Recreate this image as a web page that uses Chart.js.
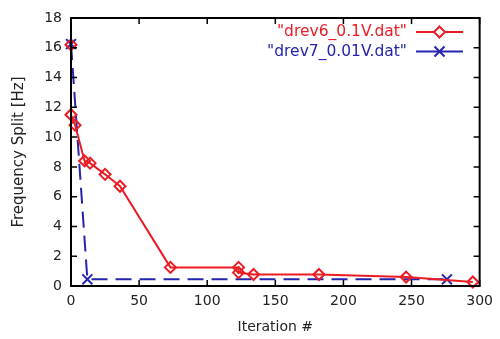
<!DOCTYPE html>
<html>
<head>
<meta charset="utf-8">
<script src="https://cdn.jsdelivr.net/npm/chart.js@4"></script>
<style>
  html, body { margin: 0; padding: 0; background: #fff; }
  #wrap { width: 500px; height: 339px; position: relative; }
</style>
</head>
<body>
<div id="wrap"><canvas id="c"></canvas></div>
<script>
// Frequency split vs iteration, two drive runs (gnuplot-style)
const labels = ['"drev6_0.1V.dat"', '"drev7_0.01V.dat"'];

const redX = [0, 0, 3, 10, 14, 25, 36, 73, 123, 123, 134, 182, 246, 295];
const redY = [16.2, 11.5, 10.8, 8.4, 8.25, 7.5, 6.7, 1.25, 1.25, 0.9, 0.77, 0.77, 0.6, 0.27];

const blueX = [0, 12, 276];
const blueY = [16.25, 0.45, 0.45];

const xTicks = [0, 50, 100, 150, 200, 250, 300];
const yTicks = [0, 2, 4, 6, 8, 10, 12, 14, 16, 18];

const RED = '#ec1c24';
const BLUE = '#2424b0';
const FONT = 'DejaVu Sans';

const toPts = (xs, ys) => xs.map((x, i) => ({ x, y: ys[i] }));

// box round the plot with inward ticks on all four sides
const frame = {
  id: 'frame',
  afterDatasetsDraw(chart) {
    const { ctx, chartArea: a, scales: { x, y } } = chart;
    const t = 6;
    ctx.save();
    ctx.strokeStyle = '#000';
    ctx.lineWidth = 1.5;
    ctx.beginPath();
    xTicks.forEach(v => {
      const px = x.getPixelForValue(v);
      ctx.moveTo(px, a.bottom); ctx.lineTo(px, a.bottom - t);
      ctx.moveTo(px, a.top); ctx.lineTo(px, a.top + t);
    });
    yTicks.forEach(v => {
      const py = y.getPixelForValue(v);
      ctx.moveTo(a.left, py); ctx.lineTo(a.left + t, py);
      ctx.moveTo(a.right, py); ctx.lineTo(a.right - t, py);
    });
    ctx.stroke();
    ctx.lineWidth = 2;
    ctx.strokeRect(a.left, a.top, a.right - a.left, a.bottom - a.top);
    ctx.restore();
  }
};

// key inside the top right corner: label first, sample line after
const key = {
  id: 'key',
  afterDraw(chart) {
    const { ctx } = chart;
    const textRight = 407, x0 = 416, x1 = 463, top = 32, step = 19.5;
    ctx.save();
    ctx.font = '15.5px "' + FONT + '"';
    ctx.textAlign = 'right';
    ctx.textBaseline = 'middle';
    chart.data.datasets.forEach((ds, i) => {
      const yy = top + i * step;
      const xm = (x0 + x1) / 2;
      ctx.fillStyle = ds.borderColor;
      ctx.fillText(ds.label, textRight, yy);
      ctx.strokeStyle = ds.borderColor;
      ctx.lineWidth = 2;
      ctx.beginPath();
      ctx.moveTo(x0, yy); ctx.lineTo(x1, yy);
      ctx.stroke();
      ctx.beginPath();
      if (ds.pointStyle === 'rectRot') {
        ctx.fillStyle = '#fff';
        ctx.moveTo(xm, yy - 5.5); ctx.lineTo(xm + 5.5, yy);
        ctx.lineTo(xm, yy + 5.5); ctx.lineTo(xm - 5.5, yy);
        ctx.closePath();
        ctx.fill();
      } else {
        ctx.moveTo(xm - 5, yy - 5); ctx.lineTo(xm + 5, yy + 5);
        ctx.moveTo(xm + 5, yy - 5); ctx.lineTo(xm - 5, yy + 5);
      }
      ctx.stroke();
    });
    ctx.restore();
  }
};

new Chart(document.getElementById('c'), {
  type: 'scatter',
  data: {
    datasets: [
      {
        label: labels[0],
        data: toPts(redX, redY),
        showLine: true,
        borderColor: RED,
        backgroundColor: 'rgba(255,255,255,0)',
        borderWidth: 2,
        pointStyle: 'rectRot',
        pointRadius: 5.5,
        pointBorderWidth: 2,
        pointBorderColor: RED,
        clip: false,
      },
      {
        label: labels[1],
        data: toPts(blueX, blueY),
        showLine: true,
        borderColor: BLUE,
        backgroundColor: BLUE,
        borderWidth: 2,
        borderDash: [16, 8],
        pointStyle: 'crossRot',
        pointRadius: 7,
        pointBorderWidth: 2,
        pointBorderColor: BLUE,
        clip: false,
      },
    ],
  },
  options: {
    responsive: true,
    maintainAspectRatio: false,
    animation: false,
    layout: { padding: { top: 18, right: 19, left: 0, bottom: 0 } },
    plugins: { legend: { display: false }, tooltip: { enabled: false } },
    scales: {
      x: {
        type: 'linear',
        min: 0, max: 300,
        afterBuildTicks: s => { s.ticks = xTicks.map(v => ({ value: v })); },
        afterFit: s => { s.height = 53; },
        grid: { display: false, drawTicks: false },
        border: { display: false },
        ticks: { padding: 7, color: '#222', font: { family: FONT, size: 14 } },
        title: {
          display: true, text: 'Iteration #', color: '#222',
          font: { family: FONT, size: 14 }, padding: { top: 0, bottom: 3 },
        },
      },
      y: {
        type: 'linear',
        min: 0, max: 18,
        afterBuildTicks: s => { s.ticks = yTicks.map(v => ({ value: v })); },
        afterFit: s => { s.width = 71; },
        grid: { display: false, drawTicks: false },
        border: { display: false },
        ticks: { padding: 9, color: '#222', font: { family: FONT, size: 14 } },
        title: {
          display: true, text: 'Frequency Split [Hz]', color: '#222',
          font: { family: FONT, size: 15 }, padding: { top: 10, bottom: 0 },
        },
      },
    },
  },
  plugins: [frame, key],
});
</script>
</body>
</html>
